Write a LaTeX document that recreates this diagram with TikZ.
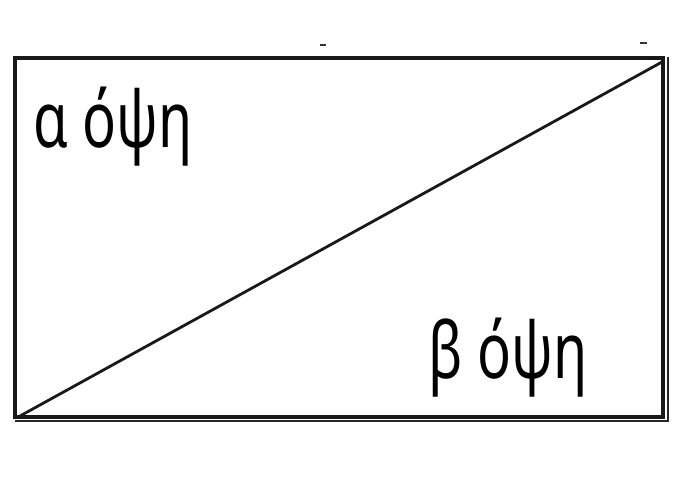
\documentclass[tikz,border=0pt]{standalone}
\usepackage{fontspec}
\usepackage{graphicx}
\setmainfont{Noto Sans}
\begin{document}
\begin{tikzpicture}[x=1pt,y=-1pt,
  frame/.style={line width=3.2pt,black!90},
  diag/.style={line width=2.8pt,black!90},
  tick/.style={line width=2pt,black!80},
  label/.style={anchor=base west,inner sep=0pt,font=\fontsize{78}{78}\selectfont}]
\useasboundingbox (0,0) rectangle (700,500);
\coordinate (tl) at (15,58);
\coordinate (tr) at (663,58);
\coordinate (br) at (663,417);
\coordinate (bl) at (15,417);
\draw[frame] (tl) -- (tr) -- (br) -- (bl) -- cycle;
\coordinate (tr2) at (668,57);
\coordinate (br2) at (668,421);
\coordinate (bl2) at (15,421);
\draw[line width=2.4pt,black!85] (tr2) -- (br2) -- (bl2);
\coordinate (d1) at (20,416);
\coordinate (d2) at (662,62);
\draw[diag] (d1) -- (d2);
\coordinate (t1a) at (320,45); \coordinate (t1b) at (326,45);
\coordinate (t2a) at (640,43); \coordinate (t2b) at (647,43);
\draw[tick] (t1a) -- (t1b);
\draw[tick] (t2a) -- (t2b);
\node[label] (a) at (33,147) {\scalebox{0.72}[1]{α όψη}};
\node[label] (b) at (428,378) {\scalebox{0.72}[1]{β όψη}};
\end{tikzpicture}
\end{document}
